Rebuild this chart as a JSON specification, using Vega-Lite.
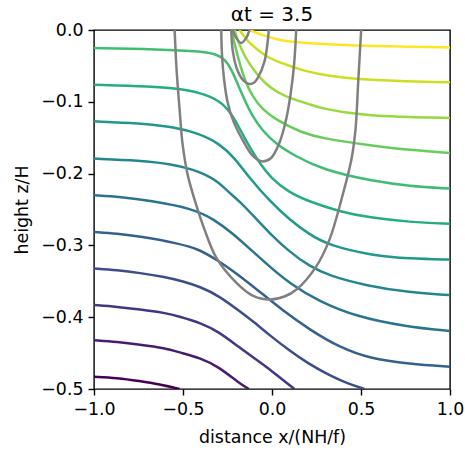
{
  "$schema": "https://vega.github.io/schema/vega-lite/v6.json",
  "width": 356,
  "height": 359,
  "autosize": {"type": "none"},
  "padding": {"left": 94, "top": 30, "right": 15, "bottom": 64},
  "background": "white",
  "title": {"text": "αt = 3.5", "fontSize": 20, "font": "DejaVu Sans", "fontWeight": "normal", "color": "black", "offset": -4},
  "datasets": {
    "contours": [
      {"l":1,"x":-1,"z":-0.483},{"l":1,"x":-0.87,"z":-0.4845},{"l":1,"x":-0.744,"z":-0.489},{"l":1,"x":-0.632,"z":-0.4935},{"l":1,"x":-0.519,"z":-0.5},
      {"l":2,"x":-1,"z":-0.432},{"l":2,"x":-0.87,"z":-0.4345},{"l":2,"x":-0.744,"z":-0.4381},{"l":2,"x":-0.6,"z":-0.443},{"l":2,"x":-0.519,"z":-0.449},{"l":2,"x":-0.4,"z":-0.457},{"l":2,"x":-0.3,"z":-0.469},{"l":2,"x":-0.181,"z":-0.4925},{"l":2,"x":-0.13,"z":-0.5},
      {"l":3,"x":-1,"z":-0.383},{"l":3,"x":-0.87,"z":-0.3855},{"l":3,"x":-0.744,"z":-0.389},{"l":3,"x":-0.6,"z":-0.394},{"l":3,"x":-0.52,"z":-0.399},{"l":3,"x":-0.4,"z":-0.408},{"l":3,"x":-0.3,"z":-0.42},{"l":3,"x":-0.181,"z":-0.4427},{"l":3,"x":-0.1,"z":-0.457},{"l":3,"x":0,"z":-0.475},{"l":3,"x":0.126,"z":-0.5},
      {"l":4,"x":-1,"z":-0.3323},{"l":4,"x":-0.87,"z":-0.3345},{"l":4,"x":-0.744,"z":-0.3383},{"l":4,"x":-0.6,"z":-0.344},{"l":4,"x":-0.501,"z":-0.35},{"l":4,"x":-0.4,"z":-0.358},{"l":4,"x":-0.3,"z":-0.37},{"l":4,"x":-0.181,"z":-0.3917},{"l":4,"x":-0.1,"z":-0.407},{"l":4,"x":-0.014,"z":-0.425},{"l":4,"x":0.1,"z":-0.447},{"l":4,"x":0.2,"z":-0.464},{"l":4,"x":0.323,"z":-0.4812},{"l":4,"x":0.42,"z":-0.492},{"l":4,"x":0.519,"z":-0.5},
      {"l":5,"x":-1,"z":-0.2812},{"l":5,"x":-0.87,"z":-0.2835},{"l":5,"x":-0.744,"z":-0.2873},{"l":5,"x":-0.519,"z":-0.2975},{"l":5,"x":-0.407,"z":-0.3058},{"l":5,"x":-0.313,"z":-0.3198},{"l":5,"x":-0.22,"z":-0.3351},{"l":5,"x":-0.07,"z":-0.3643},{"l":5,"x":0.061,"z":-0.3907},{"l":5,"x":0.21,"z":-0.4172},{"l":5,"x":0.379,"z":-0.4419},{"l":5,"x":0.547,"z":-0.4575},{"l":5,"x":0.772,"z":-0.4652},{"l":5,"x":1,"z":-0.4691},
      {"l":6,"x":-1,"z":-0.2302},{"l":6,"x":-0.85,"z":-0.2325},{"l":6,"x":-0.687,"z":-0.2376},{"l":6,"x":-0.444,"z":-0.2487},{"l":6,"x":-0.323,"z":-0.2641},{"l":6,"x":-0.22,"z":-0.2835},{"l":6,"x":-0.126,"z":-0.3044},{"l":6,"x":-0.033,"z":-0.3253},{"l":6,"x":0.098,"z":-0.3531},{"l":6,"x":0.267,"z":-0.3782},{"l":6,"x":0.473,"z":-0.3991},{"l":6,"x":0.753,"z":-0.4131},{"l":6,"x":1,"z":-0.4193},
      {"l":7,"x":-1,"z":-0.1791},{"l":7,"x":-0.744,"z":-0.1815},{"l":7,"x":-0.557,"z":-0.187},{"l":7,"x":-0.45,"z":-0.194},{"l":7,"x":-0.369,"z":-0.2015},{"l":7,"x":-0.3,"z":-0.212},{"l":7,"x":-0.25,"z":-0.2245},{"l":7,"x":-0.18,"z":-0.239},{"l":7,"x":-0.1,"z":-0.26},{"l":7,"x":-0.014,"z":-0.283},{"l":7,"x":0.098,"z":-0.309},{"l":7,"x":0.21,"z":-0.329},{"l":7,"x":0.323,"z":-0.3425},{"l":7,"x":0.529,"z":-0.356},{"l":7,"x":0.772,"z":-0.3657},{"l":7,"x":1,"z":-0.3692},
      {"l":8,"x":-1,"z":-0.1272},{"l":8,"x":-0.744,"z":-0.1297},{"l":8,"x":-0.557,"z":-0.1346},{"l":8,"x":-0.407,"z":-0.1444},{"l":8,"x":-0.295,"z":-0.1583},{"l":8,"x":-0.21,"z":-0.178},{"l":8,"x":-0.126,"z":-0.2064},{"l":8,"x":-0.014,"z":-0.238},{"l":8,"x":0.098,"z":-0.2641},{"l":8,"x":0.21,"z":-0.2849},{"l":8,"x":0.323,"z":-0.3003},{"l":8,"x":0.566,"z":-0.3142},{"l":8,"x":0.772,"z":-0.3184},{"l":8,"x":1,"z":-0.3198},
      {"l":9,"x":-1,"z":-0.0761},{"l":9,"x":-0.687,"z":-0.0782},{"l":9,"x":-0.463,"z":-0.0831},{"l":9,"x":-0.34,"z":-0.0928},{"l":9,"x":-0.261,"z":-0.1054},{"l":9,"x":-0.205,"z":-0.1256},{"l":9,"x":-0.149,"z":-0.1535},{"l":9,"x":-0.081,"z":-0.1815},{"l":9,"x":-0.003,"z":-0.2074},{"l":9,"x":0.098,"z":-0.2265},{"l":9,"x":0.21,"z":-0.239},{"l":9,"x":0.379,"z":-0.2529},{"l":9,"x":0.547,"z":-0.2613},{"l":9,"x":0.772,"z":-0.2675},{"l":9,"x":1,"z":-0.27},
      {"l":10,"x":-1,"z":-0.0251},{"l":10,"x":-0.687,"z":-0.0264},{"l":10,"x":-0.407,"z":-0.0295},{"l":10,"x":-0.317,"z":-0.033},{"l":10,"x":-0.261,"z":-0.0413},{"l":10,"x":-0.227,"z":-0.0553},{"l":10,"x":-0.194,"z":-0.0745},{"l":10,"x":-0.154,"z":-0.0975},{"l":10,"x":-0.109,"z":-0.1207},{"l":10,"x":-0.053,"z":-0.1402},{"l":10,"x":0.02,"z":-0.1583},{"l":10,"x":0.126,"z":-0.175},{"l":10,"x":0.283,"z":-0.1945},{"l":10,"x":0.564,"z":-0.2105},{"l":10,"x":0.772,"z":-0.2174},{"l":10,"x":1,"z":-0.2209},
      {"l":11,"x":-0.227,"z":0},{"l":11,"x":-0.216,"z":-0.0135},{"l":11,"x":-0.199,"z":-0.0302},{"l":11,"x":-0.177,"z":-0.0511},{"l":11,"x":-0.149,"z":-0.072},{"l":11,"x":-0.109,"z":-0.0928},{"l":11,"x":-0.053,"z":-0.1109},{"l":11,"x":0.031,"z":-0.1263},{"l":11,"x":0.154,"z":-0.1416},{"l":11,"x":0.283,"z":-0.1513},{"l":11,"x":0.564,"z":-0.1611},{"l":11,"x":0.772,"z":-0.1673},{"l":11,"x":1,"z":-0.1712},
      {"l":12,"x":-0.21,"z":0},{"l":12,"x":-0.194,"z":-0.0135},{"l":12,"x":-0.166,"z":-0.0302},{"l":12,"x":-0.132,"z":-0.0455},{"l":12,"x":-0.087,"z":-0.0608},{"l":12,"x":-0.037,"z":-0.0747},{"l":12,"x":0.031,"z":-0.0873},{"l":12,"x":0.115,"z":-0.0963},{"l":12,"x":0.21,"z":-0.1033},{"l":12,"x":0.283,"z":-0.1095},{"l":12,"x":0.435,"z":-0.1158},{"l":12,"x":0.564,"z":-0.1193},{"l":12,"x":0.772,"z":-0.1214},{"l":12,"x":1,"z":-0.1225},
      {"l":13,"x":-0.182,"z":0},{"l":13,"x":-0.16,"z":-0.0079},{"l":13,"x":-0.126,"z":-0.0181},{"l":13,"x":-0.081,"z":-0.0274},{"l":13,"x":-0.033,"z":-0.0367},{"l":13,"x":0.02,"z":-0.0427},{"l":13,"x":0.08,"z":-0.0483},{"l":13,"x":0.173,"z":-0.0567},{"l":13,"x":0.323,"z":-0.0643},{"l":13,"x":0.473,"z":-0.0685},{"l":13,"x":0.716,"z":-0.0713},{"l":13,"x":1,"z":-0.0729},
      {"l":14,"x":-0.126,"z":0},{"l":14,"x":-0.089,"z":-0.0038},{"l":14,"x":-0.052,"z":-0.0072},{"l":14,"x":0.024,"z":-0.0128},{"l":14,"x":0.098,"z":-0.0163},{"l":14,"x":0.21,"z":-0.0188},{"l":14,"x":0.473,"z":-0.0219},{"l":14,"x":0.716,"z":-0.0232},{"l":14,"x":1,"z":-0.0242}
    ],
    "curves": [
      {"c":"big","i":1,"x":-0.547,"z":0},{"c":"big","i":2,"x":-0.536,"z":-0.0553},{"c":"big","i":3,"x":-0.519,"z":-0.1109},{"c":"big","i":4,"x":-0.502,"z":-0.1597},{"c":"big","i":5,"x":-0.474,"z":-0.2014},{"c":"big","i":6,"x":-0.435,"z":-0.2362},{"c":"big","i":7,"x":-0.379,"z":-0.278},{"c":"big","i":8,"x":-0.313,"z":-0.317},{"c":"big","i":9,"x":-0.201,"z":-0.3518},{"c":"big","i":10,"x":-0.109,"z":-0.3698},{"c":"big","i":11,"x":-0.014,"z":-0.3754},{"c":"big","i":12,"x":0.07,"z":-0.3712},{"c":"big","i":13,"x":0.1375,"z":-0.3615},{"c":"big","i":14,"x":0.248,"z":-0.3295},{"c":"big","i":15,"x":0.323,"z":-0.2919},{"c":"big","i":16,"x":0.39,"z":-0.2362},{"c":"big","i":17,"x":0.446,"z":-0.1805},{"c":"big","i":18,"x":0.469,"z":-0.1388},{"c":"big","i":19,"x":0.485,"z":-0.0692},{"c":"big","i":20,"x":0.501,"z":0},
      {"c":"mid","i":1,"x":-0.285,"z":0},{"c":"mid","i":2,"x":-0.281,"z":-0.0344},{"c":"mid","i":3,"x":-0.269,"z":-0.0692},{"c":"mid","i":4,"x":-0.25,"z":-0.0998},{"c":"mid","i":5,"x":-0.216,"z":-0.1276},{"c":"mid","i":6,"x":-0.166,"z":-0.1527},{"c":"mid","i":7,"x":-0.109,"z":-0.175},{"c":"mid","i":8,"x":-0.058,"z":-0.1829},{"c":"mid","i":9,"x":-0.005,"z":-0.1782},{"c":"mid","i":10,"x":0.042,"z":-0.1569},{"c":"mid","i":11,"x":0.079,"z":-0.1249},{"c":"mid","i":12,"x":0.104,"z":-0.0901},{"c":"mid","i":13,"x":0.124,"z":-0.0483},{"c":"mid","i":14,"x":0.136,"z":0},
      {"c":"small","i":1,"x":-0.229,"z":0},{"c":"small","i":2,"x":-0.22,"z":-0.0298},{"c":"small","i":3,"x":-0.192,"z":-0.0576},{"c":"small","i":4,"x":-0.16,"z":-0.0706},{"c":"small","i":5,"x":-0.126,"z":-0.0752},{"c":"small","i":6,"x":-0.098,"z":-0.0727},{"c":"small","i":7,"x":-0.08,"z":-0.0668},{"c":"small","i":8,"x":-0.042,"z":-0.0437},{"c":"small","i":9,"x":-0.024,"z":-0.0159},{"c":"small","i":10,"x":-0.018,"z":0},
      {"c":"tiny","i":1,"x":-0.22,"z":0},{"c":"tiny","i":2,"x":-0.201,"z":-0.0111},{"c":"tiny","i":3,"x":-0.173,"z":-0.0181},{"c":"tiny","i":4,"x":-0.145,"z":-0.0111},{"c":"tiny","i":5,"x":-0.126,"z":0}
    ]
  },
  "layer": [
    {
      "data": {"name": "contours"},
      "mark": {"type": "line", "strokeWidth": 2.5, "interpolate": "basis", "clip": true},
      "encoding": {
        "x": {"field": "x", "type": "quantitative", "scale": {"domain": [-1, 1], "nice": false, "zero": false},
              "axis": {"title": "distance x/(NH/f)", "values": [-1, -0.5, 0, 0.5, 1], "format": ".1f", "labelFlush": false, "labelOverlap": false, "titlePadding": 11}},
        "y": {"field": "z", "type": "quantitative", "scale": {"domain": [-0.5, 0], "nice": false, "zero": false},
              "axis": {"title": "height z/H", "values": [0, -0.1, -0.2, -0.3, -0.4, -0.5], "format": ".1f", "labelOverlap": false, "titlePadding": 9}},
        "color": {"field": "l", "type": "quantitative", "scale": {"scheme": "viridis", "domain": [1, 14]}, "legend": null},
        "detail": {"field": "l", "type": "nominal"}
      }
    },
    {
      "data": {"name": "curves"},
      "mark": {"type": "line", "strokeWidth": 2.5, "color": "#808080", "interpolate": "catmull-rom", "clip": true},
      "encoding": {
        "x": {"field": "x", "type": "quantitative"},
        "y": {"field": "z", "type": "quantitative"},
        "detail": {"field": "c", "type": "nominal"},
        "order": {"field": "i", "type": "quantitative"}
      }
    }
  ],
  "config": {
    "font": "DejaVu Sans",
    "view": {"stroke": "black", "strokeWidth": 1.4},
    "axis": {
      "grid": false, "domain": false,
      "tickColor": "black", "tickWidth": 1.4, "tickSize": 6,
      "labelFont": "DejaVu Sans", "labelFontSize": 17.4, "labelColor": "black", "labelPadding": 5,
      "titleFont": "DejaVu Sans", "titleFontSize": 17.4, "titleFontWeight": "normal", "titleColor": "black"
    }
  }
}
